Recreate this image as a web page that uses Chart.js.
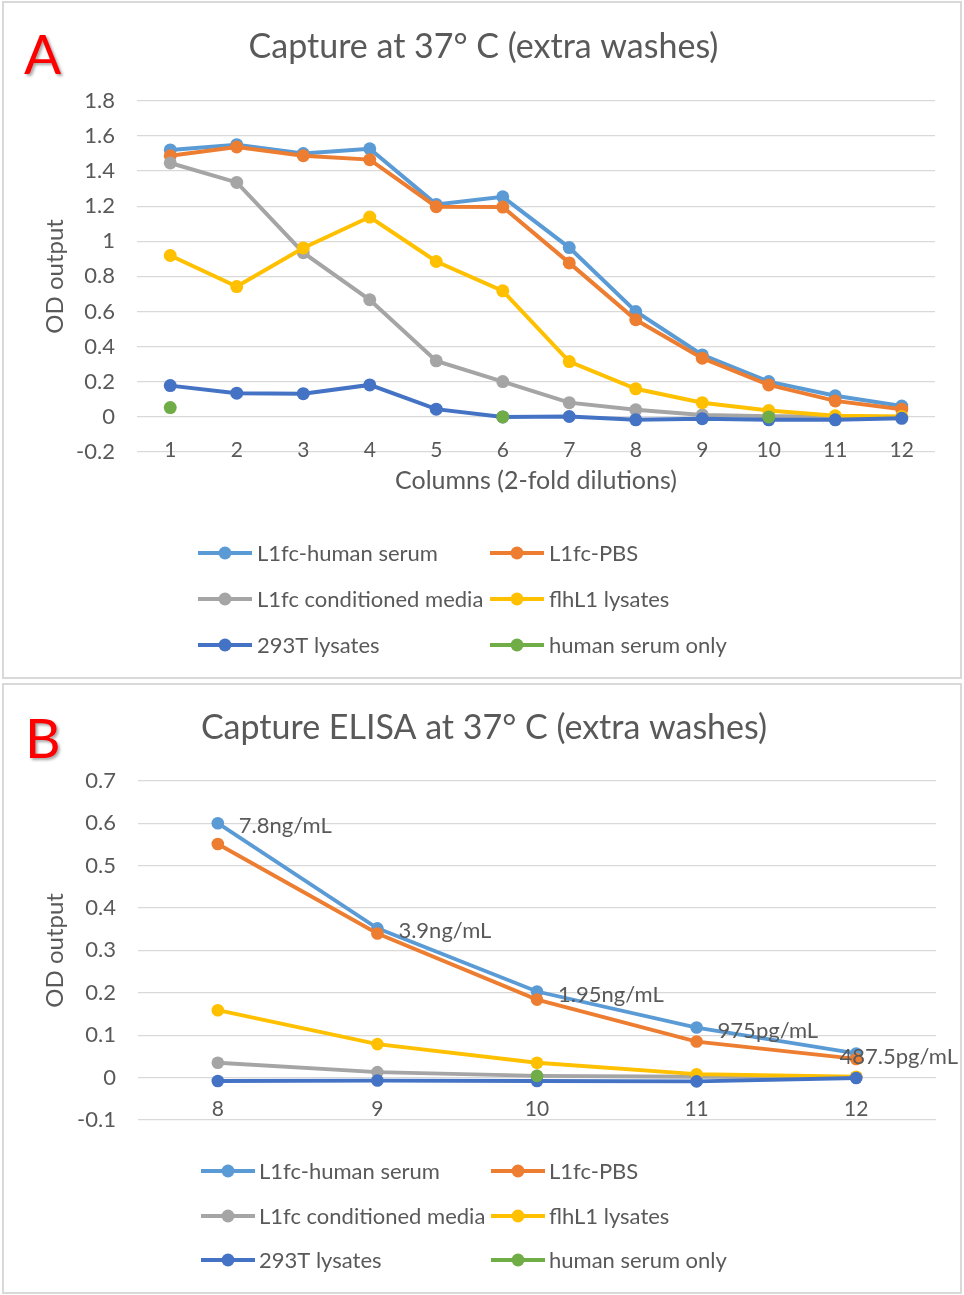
<!DOCTYPE html>
<html>
<head>
<meta charset="utf-8">
<script src="https://cdn.jsdelivr.net/npm/chart.js@4.4.0/dist/chart.umd.min.js"></script>
<style>
  body { margin: 0; background: #fff; width: 964px; height: 1295px; position: relative; overflow: hidden; font-family: Lato, sans-serif; }
  .panel { position: absolute; left: 2px; width: 960px; border: 2px solid #d9d9d9; box-sizing: border-box; }
  canvas { position: absolute; left: 32px; }
  .tag { position: absolute; color: #ff0000; font-size: 55px; line-height: 1; text-shadow: 2px 2px 3px rgba(0,0,0,0.35); }
</style>
</head>
<body>
<div class="panel" style="top:1px;height:678px"></div>
<div class="panel" style="top:683px;height:611px"></div>
<canvas id="chartA" width="932" height="680" style="top:0"></canvas>
<canvas id="chartB" width="932" height="612" style="top:683px"></canvas>
<div class="tag" style="left:24px;top:26px">A</div>
<div class="tag" style="left:25px;top:710px">B</div>
<script>
// series shared by both panels
const seriesNames = ['L1fc-human serum', 'L1fc-PBS', 'L1fc conditioned media', 'flhL1 lysates', '293T lysates', 'human serum only'];
const seriesColors = ['#5B9BD5', '#ED7D31', '#A5A5A5', '#FFC000', '#4472C4', '#70AD47'];

// panel A: all 12 columns
const columnsA = ['1', '2', '3', '4', '5', '6', '7', '8', '9', '10', '11', '12'];
const humanSerumA = [1.52, 1.55, 1.50, 1.527, 1.21, 1.253, 0.964, 0.60, 0.353, 0.201, 0.12, 0.062];
const pbsA = [1.487, 1.537, 1.487, 1.465, 1.197, 1.195, 0.877, 0.553, 0.334, 0.182, 0.091, 0.044];
const conditionedA = [1.446, 1.335, 0.935, 0.667, 0.319, 0.201, 0.081, 0.04, 0.011, 0.004, 0.002, 0];
const lysatesA = [0.919, 0.742, 0.962, 1.138, 0.885, 0.718, 0.315, 0.16, 0.081, 0.036, 0.006, 0.002];
const t293A = [0.178, 0.135, 0.132, 0.182, 0.044, 0, 0.002, -0.017, -0.01, -0.017, -0.017, -0.008];
const serumOnlyA = [0.053, null, null, null, null, 0, null, null, null, 0, null, null];
const yTicksA = [-0.2, 0, 0.2, 0.4, 0.6, 0.8, 1, 1.2, 1.4, 1.6, 1.8];

// panel B: columns 8-12
const columnsB = ['8', '9', '10', '11', '12'];
const humanSerumB = [0.600, 0.352, 0.203, 0.118, 0.057];
const pbsB = [0.551, 0.340, 0.184, 0.085, 0.044];
const conditionedB = [0.035, 0.013, 0.004, 0.002, 0.001];
const lysatesB = [0.159, 0.079, 0.035, 0.008, 0.002];
const t293B = [-0.008, -0.007, -0.008, -0.009, -0.001];
const serumOnlyB = [null, null, 0.004, null, null];
const concLabelsB = ['7.8ng/mL', '3.9ng/mL', '1.95ng/mL', '975pg/mL', '487.5pg/mL'];
const yTicksB = [-0.1, 0, 0.1, 0.2, 0.3, 0.4, 0.5, 0.6, 0.7];

const textColor = '#595959';
const gridColor = '#d9d9d9';
const fontFamily = 'Lato, sans-serif';

// legend in two aligned columns, Excel style (line with a dot)
const gridLegend = {
  id: 'gridLegend',
  afterDraw(chart, args, opts) {
    const ctx = chart.ctx;
    ctx.save();
    ctx.font = '22px ' + fontFamily;
    ctx.textBaseline = 'middle';
    chart.data.datasets.forEach((ds, i) => {
      const x = opts.x[i % 2];
      const y = opts.y[Math.floor(i / 2)];
      ctx.strokeStyle = ds.borderColor;
      ctx.lineWidth = 4;
      ctx.beginPath();
      ctx.moveTo(x, y);
      ctx.lineTo(x + opts.lineLen, y);
      ctx.stroke();
      ctx.fillStyle = ds.borderColor;
      ctx.beginPath();
      ctx.arc(x + opts.lineLen / 2, y, 6.5, 0, Math.PI * 2);
      ctx.fill();
      ctx.fillStyle = textColor;
      ctx.fillText(ds.label, x + opts.lineLen + opts.gap, y + 1);
    });
    ctx.restore();
  }
};

// data labels to the right of the points of one series
const pointLabels = {
  id: 'pointLabels',
  afterDatasetsDraw(chart, args, opts) {
    if (!opts.labels) return;
    const ctx = chart.ctx;
    const meta = chart.getDatasetMeta(opts.datasetIndex);
    ctx.save();
    ctx.font = '22px ' + fontFamily;
    ctx.fillStyle = textColor;
    ctx.textBaseline = 'middle';
    meta.data.forEach((pt, i) => {
      const txt = opts.labels[i];
      const w = ctx.measureText(txt).width;
      let x = pt.x + 21;
      if (x + w > chart.width - 6) x = chart.width - 6 - w;
      ctx.fillText(txt, x, pt.y + 3);
    });
    ctx.restore();
  }
};

function makeChart(id, p) {
  const datasets = p.series.map((vals, i) => ({
    label: seriesNames[i],
    data: vals,
    borderColor: seriesColors[i],
    backgroundColor: seriesColors[i],
    borderWidth: p.lineWidth,
    pointRadius: p.pointRadius,
    pointBorderWidth: 0,
    pointHoverRadius: p.pointRadius,
    spanGaps: false,
    order: p.series.length - i
  }));
  return new Chart(document.getElementById(id), {
    type: 'line',
    data: { labels: p.columns, datasets: datasets },
    options: {
      responsive: false,
      animation: false,
      layout: { padding: { left: 0, right: p.padRight, top: 0, bottom: p.padBottom } },
      plugins: {
        legend: { display: false },
        tooltip: { enabled: false },
        title: {
          display: true,
          text: p.title,
          color: textColor,
          font: { family: fontFamily, size: 34, weight: 'normal' },
          padding: { top: p.titleTop, bottom: p.titleBottom }
        },
        gridLegend: p.legend,
        pointLabels: p.pointLabels || {}
      },
      scales: {
        x: {
          position: { y: 0 },
          offset: true,
          grid: { display: false },
          border: { display: false },
          ticks: { color: textColor, font: { family: fontFamily, size: 21 }, padding: p.xTickPad, maxRotation: 0 },
          title: {
            display: !!p.xTitle,
            text: p.xTitle || '',
            color: textColor,
            font: { family: fontFamily, size: 25 },
            padding: { top: 0, bottom: 1 }
          },
          afterFit: s => { s.height = p.xHeight; s.paddingLeft = 0; s.paddingRight = 0; }
        },
        y: {
          min: p.yTicks[0],
          max: p.yTicks[p.yTicks.length - 1],
          afterBuildTicks: s => { s.ticks = p.yTicks.map(v => ({ value: v })); },
          grid: { color: gridColor, lineWidth: 1.3, drawTicks: false },
          border: { display: false },
          ticks: { color: textColor, font: { family: fontFamily, size: 22 }, padding: 22, callback: v => String(v) },
          title: {
            display: true,
            text: 'OD output',
            color: textColor,
            font: { family: fontFamily, size: 24 },
            padding: { top: 9, bottom: 0 }
          },
          afterFit: s => { s.width = p.yWidth; s.paddingTop = 0; s.paddingBottom = 0; }
        }
      }
    },
    plugins: [gridLegend, pointLabels]
  });
}

makeChart('chartA', {
  columns: columnsA,
  series: [humanSerumA, pbsA, conditionedA, lysatesA, t293A, serumOnlyA],
  yTicks: yTicksA,
  title: 'Capture at 37° C (extra washes)',
  titleTop: 27, titleBottom: 33,
  xTitle: 'Columns (2-fold dilutions)',
  xHeight: 80, xTickPad: 13,
  yWidth: 105, padRight: 29, padBottom: 228,
  lineWidth: 4, pointRadius: 6.5,
  legend: { x: [166, 458], y: [553, 599, 645], lineLen: 54, gap: 5 }
});

makeChart('chartB', {
  columns: columnsB,
  series: [humanSerumB, pbsB, conditionedB, lysatesB, t293B, serumOnlyB],
  yTicks: yTicksB,
  title: 'Capture ELISA at 37° C (extra washes)',
  titleTop: 25, titleBottom: 32,
  xTitle: '',
  xHeight: 40, xTickPad: 11,
  yWidth: 106, padRight: 28, padBottom: 175,
  lineWidth: 3.8, pointRadius: 6.3,
  legend: { x: [169, 459], y: [488, 533, 577], lineLen: 54, gap: 4 },
  pointLabels: { datasetIndex: 0, labels: concLabelsB }
});
</script>
</body>
</html>
